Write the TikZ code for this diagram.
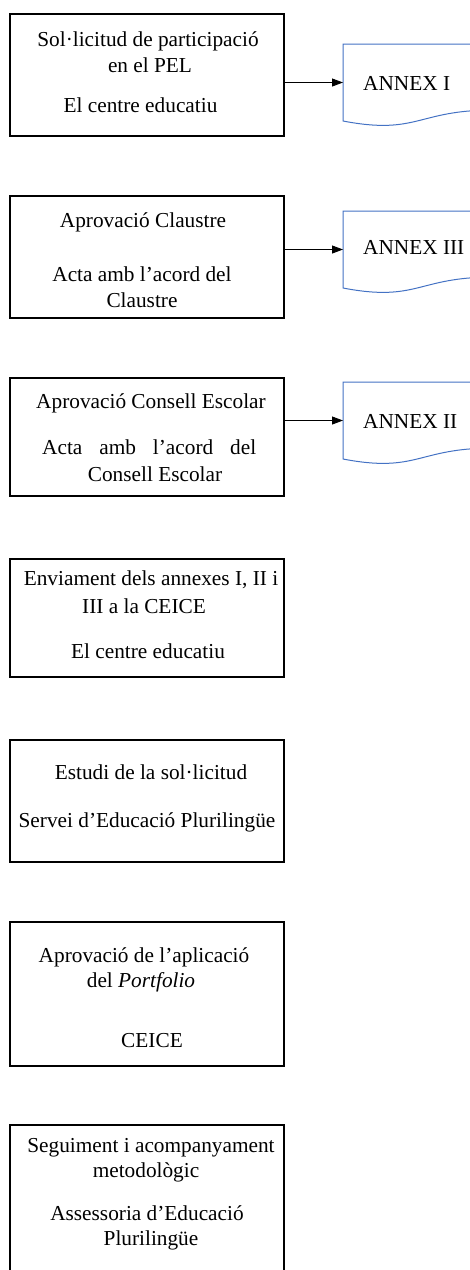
\documentclass[tikz,border=0pt]{standalone}
\usepackage{fontspec}
\setmainfont{Liberation Serif}
\usetikzlibrary{arrows.meta}
\definecolor{docblue}{HTML}{4472C4}
\begin{document}
\begin{tikzpicture}[x=1pt,y=-1pt,
  stepbox/.style={draw=black, line width=1.8pt, rectangle, anchor=north west, inner sep=0pt, minimum width=274pt},
  lbl/.style={anchor=base, inner sep=0pt, font=\fontsize{21.3}{26}\selectfont},
  docframe/.style={anchor=north west, inner sep=0pt, outer sep=0pt, minimum width=149pt, minimum height=77pt},
  docline/.style={draw=docblue, line width=1pt},
  flow/.style={draw=black, line width=0.9pt, -{Triangle[length=11pt,width=8pt]}}]
\clip (0,0) rectangle (470,1270);
\fill[white] (0,0) rectangle (470,1270);

% process boxes
\node[stepbox, minimum height=122pt] (b1) at (9,13) {};
\node[stepbox, minimum height=122pt] (b2) at (9,195) {};
\node[stepbox, minimum height=118pt] (b3) at (9,377) {};
\node[stepbox, minimum height=118pt] (b4) at (9,558) {};
\node[stepbox, minimum height=122pt] (b5) at (9,739) {};
\node[stepbox, minimum height=144pt] (b6) at (9,921) {};
\node[stepbox, minimum height=170pt] (b7) at (9,1124) {};

% document shapes
\node[docframe] (dI) at (343,44) {};
\node[docframe] (dIII) at (343,211) {};
\node[docframe] (dII) at (343,382) {};
\foreach \d in {dI,dIII,dII}{
  \draw[docline] ([yshift=10.9pt]\d.south east) -- (\d.north east) -- (\d.north west) -- (\d.south west)
    .. controls +(74.5,14.3) and +(-74.5,0) .. ([yshift=10.9pt]\d.south east);
}

% connectors
\draw[flow] (b1.east |- dI.west) -- (dI.west);
\draw[flow] (b2.east |- dIII.west) -- (dIII.west);
\draw[flow] (b3.east |- dII.west) -- (dII.west);

% document labels
\node[lbl, anchor=base west] (tI) at (363,90) {ANNEX I};
\node[lbl, anchor=base west] (tIII) at (363,254) {ANNEX III};
\node[lbl, anchor=base west] (tII) at (363,428) {ANNEX II};

% box 1
\node[lbl] (t1a) at (148,46) {Sol·licitud de participació};
\node[lbl] (t1b) at (150,72) {en el PEL};
\node[lbl] (t1c) at (140.5,112) {El centre educatiu};
% box 2
\node[lbl] (t2a) at (143,227) {Aprovació Claustre};
\node[lbl] (t2b) at (142,281) {Acta amb l’acord del};
\node[lbl] (t2c) at (142,307) {Claustre};
% box 3
\node[lbl] (t3a) at (151,408) {Aprovació Consell Escolar};
\node[lbl, anchor=base west] (t3b) at (42,454) {\hbox to 214pt{Acta\hfill amb\hfill l’acord\hfill del}};
\node[lbl] (t3c) at (155,481) {Consell Escolar};
% box 4
\node[lbl] (t4a) at (151,585) {Enviament dels annexes I, II i};
\node[lbl] (t4b) at (144,613) {III a la CEICE};
\node[lbl] (t4c) at (148,658) {El centre educatiu};
% box 5
\node[lbl] (t5a) at (151,779) {Estudi de la sol·licitud};
\node[lbl] (t5b) at (147,827) {Servei d’Educació Plurilingüe};
% box 6
\node[lbl] (t6a) at (144,962) {Aprovació de l’aplicació};
\node[lbl] (t6b) at (141,987) {del \textit{Portfolio}};
\node[lbl] (t6c) at (152,1047) {CEICE};
% box 7
\node[lbl] (t7a) at (151,1152) {Seguiment i acompanyament};
\node[lbl] (t7b) at (146,1177) {metodològic};
\node[lbl] (t7c) at (147,1220) {Assessoria d’Educació};
\node[lbl] (t7d) at (151,1245) {Plurilingüe};
\end{tikzpicture}
\end{document}
